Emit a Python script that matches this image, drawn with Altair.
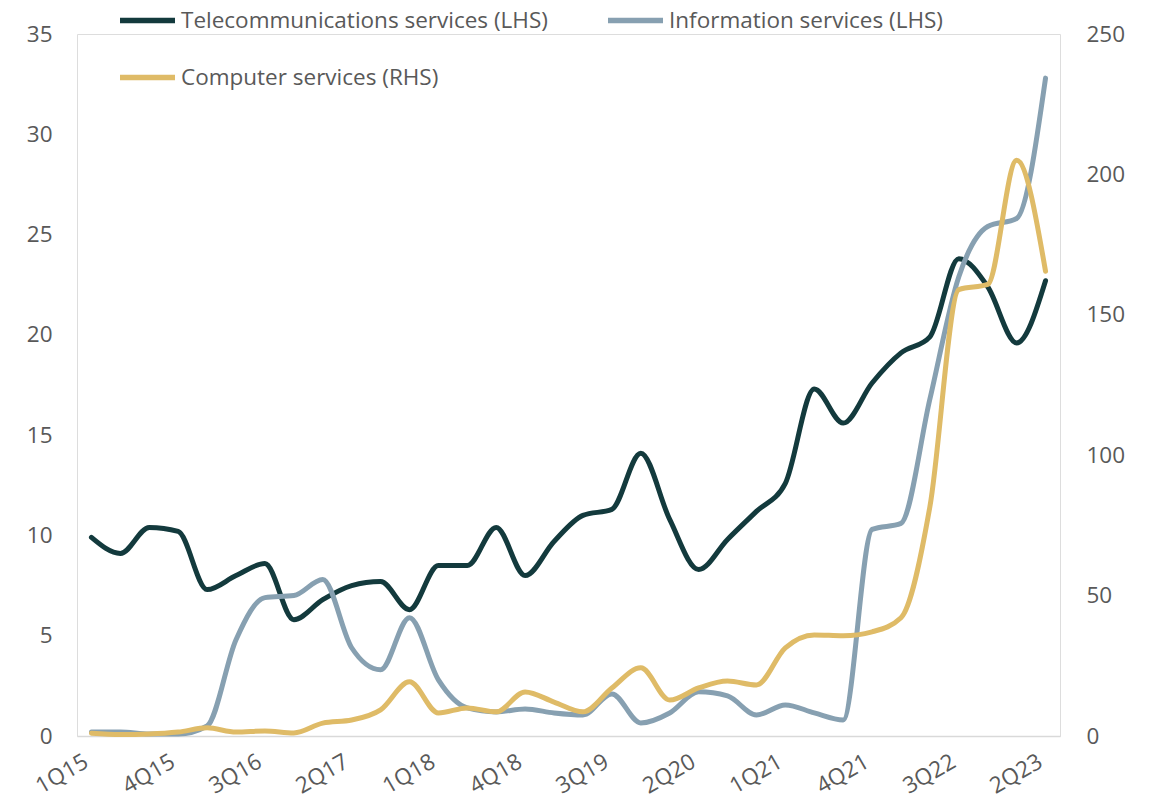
import altair as alt
import pandas as pd

quarters = [
    "1Q15", "2Q15", "3Q15", "4Q15", "1Q16", "2Q16", "3Q16", "4Q16",
    "1Q17", "2Q17", "3Q17", "4Q17", "1Q18", "2Q18", "3Q18", "4Q18",
    "1Q19", "2Q19", "3Q19", "4Q19", "1Q20", "2Q20", "3Q20", "4Q20",
    "1Q21", "2Q21", "3Q21", "4Q21", "1Q22", "2Q22", "3Q22", "4Q22",
    "1Q23", "2Q23",
]

telecom = [9.9, 9.1, 10.4, 10.2, 7.3, 8.0, 8.6, 5.8, 6.8, 7.5, 7.7, 6.3,
           8.5, 8.5, 10.4, 8.0, 9.7, 11.0, 11.3, 14.1, 10.8, 8.3, 9.8, 11.2,
           12.6, 17.3, 15.6, 17.6, 19.1, 19.9, 23.8, 22.4, 19.6, 22.7]

information = [0.2, 0.2, 0.1, 0.1, 0.5, 4.8, 6.9, 7.0, 7.8, 4.4, 3.3, 5.9,
               2.8, 1.4, 1.2, 1.35, 1.15, 1.05, 2.1, 0.65, 1.15, 2.2, 2.0, 1.05,
               1.55, 1.15, 0.8, 10.3, 10.6, 16.8, 22.9, 25.4, 25.8, 32.8]

computer = [1.0, 0.5, 0.7, 1.4, 2.9, 1.4, 1.8, 1.1, 4.6, 5.7, 9.3, 19.3,
            8.2, 10.0, 8.6, 15.7, 12.1, 8.6, 17.1, 24.3, 12.8, 17.1, 19.6, 18.2,
            31.4, 36.0, 35.7, 37.1, 42.1, 81.7, 159.0, 160.8, 205.0, 165.5]

series_names = [
    "Telecommunications services (LHS)",
    "Information services (LHS)",
    "Computer services (RHS)",
]
series_colors = ["#133a3d", "#87a0b1", "#dfbb67"]

x_label_values = quarters[::3]
left_ticks = [0, 5, 10, 15, 20, 25, 30, 35]
right_ticks = [0, 50, 100, 150, 200, 250]

rows = []
for name, vals in zip(series_names, [telecom, information, computer]):
    for q, v in zip(quarters, vals):
        rows.append({"quarter": q, "value": v, "series": name})
df = pd.DataFrame(rows)

FONT = "Open Sans"
TXT = "#595959"
FS = 22.5

x_enc = alt.X(
    "quarter:N",
    sort=quarters,
    scale=alt.Scale(type="point", padding=0.5),
    axis=alt.Axis(
        title=None,
        values=x_label_values,
        labelAngle=330,
        labelAlign="right",
        labelBaseline="top",
        labelPadding=14,
        labelOffset=-11,
        labelFont=FONT,
        labelFontSize=FS,
        labelColor=TXT,
        ticks=False,
        grid=False,
        domainColor="#d9d9d9",
        domainWidth=1.5,
    ),
)

color_enc = alt.Color(
    "series:N",
    scale=alt.Scale(domain=series_names, range=series_colors),
    legend=alt.Legend(
        title=None,
        orient="none",
        direction="horizontal",
        legendX=40,
        legendY=-44,
        columns=2,
        symbolType="stroke",
        symbolSize=3025,
        symbolStrokeWidth=5.5,
        labelFont=FONT,
        labelFontSize=FS,
        labelColor=TXT,
        labelLimit=600,
        labelOffset=3,
        columnPadding=49,
        rowPadding=15,
    ),
)

base = alt.Chart(df)
line_style = dict(interpolate="monotone", strokeWidth=5, strokeCap="round", strokeJoin="round")

left = base.transform_filter(
    alt.FieldOneOfPredicate(field="series", oneOf=series_names[:2])
).mark_line(**line_style).encode(
    x=x_enc,
    y=alt.Y(
        "value:Q",
        scale=alt.Scale(domain=[0, 35], nice=False),
        axis=alt.Axis(
            title=None,
            values=left_ticks,
            orient="left",
            labelPadding=25,
            labelFont=FONT,
            labelFontSize=FS,
            labelColor=TXT,
            ticks=False,
            grid=False,
            domain=False,
        ),
    ),
    color=color_enc,
)

right = base.transform_filter(
    alt.FieldEqualPredicate(field="series", equal=series_names[2])
).mark_line(**line_style).encode(
    x=x_enc,
    y=alt.Y(
        "value:Q",
        scale=alt.Scale(domain=[0, 250], nice=False),
        axis=alt.Axis(
            title=None,
            values=right_ticks,
            orient="right",
            labelPadding=26,
            labelFont=FONT,
            labelFontSize=FS,
            labelColor=TXT,
            ticks=False,
            grid=False,
            domain=False,
        ),
    ),
    color=color_enc,
)

chart = (
    alt.layer(left, right)
    .resolve_scale(y="independent")
    .properties(
        width=983,
        height=702,
        autosize=alt.AutoSizeParams(type="none"),
        padding={"left": 69, "top": 26, "right": 82, "bottom": 63},
    )
    .configure_view(stroke=None)
    .configure(background="white")
)

chart.save("out.html", embed_options={"renderer": "svg", "actions": False})
